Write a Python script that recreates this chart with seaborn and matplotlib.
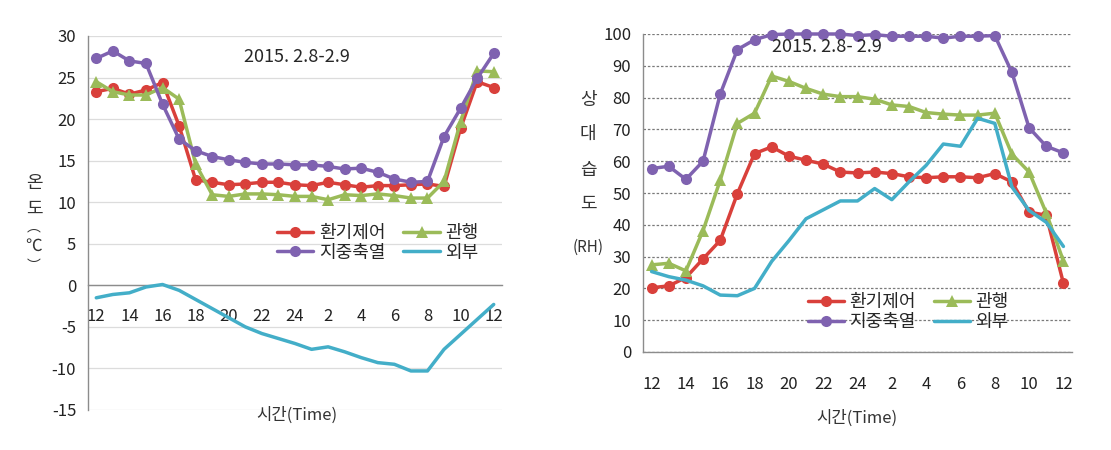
import matplotlib
matplotlib.use("Agg")
import matplotlib.pyplot as plt
import matplotlib.ticker as mticker
from matplotlib.lines import Line2D
import pandas as pd
import seaborn as sns

# hourly readings, 12h on 2/8 to 12h on 2/9
hours = list(range(25))
hour_labels = ["12", "14", "16", "18", "20", "22", "24", "2", "4", "6", "8", "10", "12"]
series_names = ["환기제어", "관행", "지중축열", "외부"]

temp_vent = [23.3, 23.7, 23.0, 23.5, 24.4, 19.2, 12.7, 12.4, 12.1, 12.2, 12.4, 12.4, 12.1,
             12.0, 12.4, 12.1, 11.8, 12.0, 12.0, 12.1, 12.2, 11.9, 18.9, 24.5, 23.8]
temp_conv = [24.5, 23.3, 22.9, 22.9, 23.8, 22.4, 14.6, 10.9, 10.7, 11.0, 11.0, 10.9, 10.7,
             10.7, 10.3, 10.9, 10.8, 11.0, 10.8, 10.5, 10.5, 12.5, 19.7, 25.8, 25.7]
temp_geo = [27.3, 28.2, 27.0, 26.7, 21.8, 17.6, 16.2, 15.5, 15.1, 14.8, 14.6, 14.6, 14.5,
            14.5, 14.3, 14.0, 14.1, 13.6, 12.8, 12.4, 12.5, 17.9, 21.3, 24.9, 27.9]
temp_out = [-1.5, -1.1, -0.9, -0.2, 0.1, -0.6, -1.7, -2.8, -3.9, -5.0, -5.8, -6.4, -7.0,
            -7.7, -7.4, -8.0, -8.7, -9.3, -9.5, -10.3, -10.3, -7.7, -5.9, -4.1, -2.3]

rh_vent = [20.2, 20.8, 23.4, 29.3, 35.1, 49.8, 62.4, 64.5, 61.6, 60.3, 59.1, 56.6, 56.3,
           56.6, 56.1, 55.1, 54.8, 55.1, 55.1, 54.8, 56.1, 53.5, 44.0, 43.0, 21.6]
rh_conv = [27.4, 27.9, 25.5, 38.2, 54.0, 71.9, 75.1, 86.8, 85.1, 82.9, 81.1, 80.3, 80.3,
           79.5, 77.7, 77.2, 75.3, 74.8, 74.5, 74.5, 75.1, 62.2, 56.6, 43.7, 28.6]
rh_geo = [57.7, 58.4, 54.3, 60.0, 81.1, 95.1, 98.2, 99.8, 100.0, 100.0, 100.0, 100.0, 99.5,
          99.8, 99.3, 99.3, 99.3, 98.7, 99.3, 99.3, 99.5, 87.9, 70.5, 64.7, 62.6]
rh_out = [25.3, 23.7, 22.6, 20.8, 17.9, 17.7, 20.0, 28.5, 35.0, 41.9, 44.7, 47.5, 47.5,
          51.4, 47.9, 53.5, 58.7, 65.4, 64.7, 73.5, 71.9, 51.9, 44.5, 40.8, 33.2]

sns.set_style("white")
plt.rcParams['font.family'] = ['Noto Sans CJK KR', 'DejaVu Sans']
plt.rcParams['axes.unicode_minus'] = False

colors = {"환기제어": "#d9403b", "관행": "#9bbb59", "지중축열": "#7f62b0", "외부": "#43aec8"}
markers = {"환기제어": "o", "관행": "^", "지중축열": "o", "외부": None}
gray = "#8c8c8c"

W, H = 1111, 450
fig = plt.figure(figsize=(W / 100, H / 100), dpi=100)
ax1 = fig.add_axes([88 / W, 1 - 410 / H, 414 / W, 374 / H])
ax2 = fig.add_axes([643 / W, 1 - 352 / H, 429 / W, 318 / H])


def draw(ax, values):
    df = pd.DataFrame({"hour": hours * 4,
                       "value": sum(values, []),
                       "series": [n for n in series_names for _ in hours]})
    for name in series_names:
        sub = df[df["series"] == name]
        sns.lineplot(data=sub, x="hour", y="value", ax=ax, color=colors[name],
                     marker=markers[name], markersize=8, markeredgewidth=0,
                     linewidth=2.5, clip_on=False, zorder=3, legend=False)


def style_x(ax):
    ax.set_xlim(-0.5, 24.5)
    ax.xaxis.set_major_locator(mticker.FixedLocator(list(range(0, 25, 2))))
    ax.xaxis.set_major_formatter(mticker.FixedFormatter(hour_labels))
    ax.xaxis.set_minor_locator(mticker.FixedLocator([h - 0.5 for h in range(26)]))
    ax.tick_params(axis="x", which="major", length=0, labelsize=12, colors="#222222")
    ax.tick_params(axis="x", which="minor", length=5, direction="out", color=gray)
    ax.set_xlabel("")
    ax.set_ylabel("")
    for s in ["top", "right"]:
        ax.spines[s].set_visible(False)
    for s in ["left", "bottom"]:
        ax.spines[s].set_color(gray)
        ax.spines[s].set_linewidth(1.0)
    ax.tick_params(axis="y", length=5, direction="out", color=gray, labelsize=12,
                   colors="#222222")


# left: temperature
draw(ax1, [temp_vent, temp_conv, temp_geo, temp_out])
ax1.set_ylim(-15, 30)
ax1.yaxis.set_major_locator(mticker.MultipleLocator(5))
ax1.grid(axis="y", color="#dcdcdc", linewidth=0.9, zorder=0)
style_x(ax1)
ax1.spines["bottom"].set_position(("data", 0))
ax1.tick_params(axis="x", which="major", pad=16)

# right: relative humidity
draw(ax2, [rh_vent, rh_conv, rh_geo, rh_out])
ax2.set_ylim(0, 100)
ax2.yaxis.set_major_locator(mticker.MultipleLocator(10))
ax2.grid(axis="y", color="#7a7a7a", linewidth=0.9, linestyle=(0, (2, 1.5)), zorder=0)
style_x(ax2)
ax2.tick_params(axis="x", which="major", pad=17)

handles = [Line2D([], [], color=colors[n], marker=markers[n], markersize=8,
                  markeredgewidth=0, linewidth=2.5) for n in series_names]
order = [0, 2, 1, 3]
for ax, anchor in [(ax1, (0.70, 0.447)), (ax2, (0.618, 0.126))]:
    ax.legend([handles[i] for i in order], [series_names[i] for i in order],
              ncol=2, loc="center", bbox_to_anchor=anchor, frameon=False,
              fontsize=13, handlelength=2.0, columnspacing=1.0, labelspacing=0.1,
              handletextpad=0.3)

# titles, axis labels
fig.text(297 / W, 1 - 57 / H, "2015. 2.8-2.9", ha="center", va="center", fontsize=13)
fig.text(827 / W, 1 - 47 / H, "2015. 2.8- 2.9", ha="center", va="center", fontsize=13)
fig.text(297 / W, 1 - 415 / H, "시간(Time)", ha="center", va="center", fontsize=12,
         color="#333333")
fig.text(857 / W, 1 - 418 / H, "시간(Time)", ha="center", va="center", fontsize=12,
         color="#333333")

for ch, y, fs in zip(["온", "도", "︵", "℃", "︶"], [183, 209, 227, 246, 266],
                     [13, 13, 10, 12, 10]):
    fig.text(34 / W, 1 - y / H, ch, ha="center", va="center", fontsize=fs, color="#333333")
for ch, y in zip(["상", "대", "습", "도", "(RH)"], [100, 134, 170, 204, 247]):
    fig.text(588 / W, 1 - y / H, ch, ha="center", va="center",
             fontsize=13 if len(ch) == 1 else 11, color="#333333")

fig.savefig("out.png", dpi=100)
